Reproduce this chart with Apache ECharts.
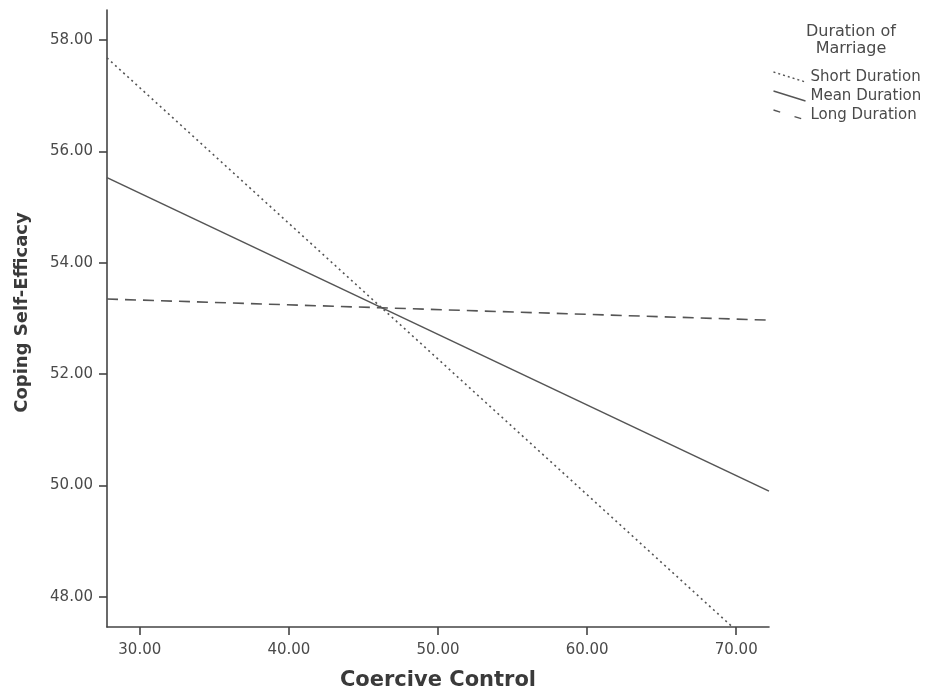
<!DOCTYPE html>
<html><head><meta charset="utf-8">
<script src="https://cdn.jsdelivr.net/npm/echarts@6/dist/echarts.min.js"></script>
<style>html,body{margin:0;padding:0;background:#fff}#c{width:928px;height:696px}</style>
</head><body><div id="c"></div>
<script>
const xTicks = [30, 40, 50, 60, 70];
const yTicks = [48, 50, 52, 54, 56, 58];
const seriesNames = ['Short Duration', 'Mean Duration', 'Long Duration'];
const shortDuration = [[27.8, 57.68], [69.75, 47.46]];
const meanDuration = [[27.8, 55.53], [72.2, 49.90]];
const longDuration = [[27.8, 53.35], [72.2, 52.97]];
const lineTypes = [[2, 3.5], 'solid', [11, 7]];
const legendTypes = [[2, 3], 'solid', [7, 15]];
const lineData = [shortDuration, meanDuration, longDuration];

const chart = echarts.init(document.getElementById('c'));
const font = 'DejaVu Sans, Verdana, sans-serif';
chart.setOption({
  animation: false,
  backgroundColor: '#fff',
  grid: { left: 107, top: 10, right: 159, bottom: 67 },
  xAxis: {
    type: 'value', min: 27.8, max: 72.2,
    name: 'Coercive Control', nameLocation: 'middle', nameGap: 43,
    nameTextStyle: { fontFamily: font, fontWeight: 'bold', fontSize: 21, color: '#3a3a3a' },
    axisLine: { show: true, onZero: false, lineStyle: { color: '#444', width: 1.6 } },
    axisTick: { show: true, length: 8, customValues: xTicks, lineStyle: { color: '#444', width: 1.6 } },
    axisLabel: { customValues: xTicks, formatter: v => v.toFixed(2), margin: 16, fontFamily: font, fontSize: 15, color: '#4a4a4a' },
    splitLine: { show: false }
  },
  yAxis: {
    type: 'value', min: 47.46, max: 58.54,
    name: 'Coping Self-Efficacy', nameLocation: 'middle', nameGap: 76, nameRotate: 90,
    nameTextStyle: { fontFamily: font, fontWeight: 'bold', fontSize: 18, color: '#3a3a3a', padding: [0, 0, 0, 12] },
    axisLine: { show: true, onZero: false, lineStyle: { color: '#444', width: 1.6 } },
    axisTick: { show: true, length: 8, customValues: yTicks, lineStyle: { color: '#444', width: 1.6 } },
    axisLabel: { customValues: yTicks, formatter: v => v.toFixed(2), margin: 14, fontFamily: font, fontSize: 15, color: '#4a4a4a' },
    splitLine: { show: false }
  },
  legend: {
    orient: 'vertical', left: 771, top: 69, padding: 0, itemGap: 3, itemWidth: 32, itemHeight: 10,
    textStyle: { fontFamily: font, fontSize: 15, color: '#4a4a4a', lineHeight: 16 },
    data: seriesNames.map((n, i) => ({
      name: n,
      icon: 'path://M0,0 L32,10',
      itemStyle: { color: 'none', borderColor: '#555', borderWidth: 1.4, borderType: legendTypes[i] }
    }))
  },
  graphic: [{
    type: 'text', x: 851, y: 23,
    style: { text: 'Duration of\nMarriage', align: 'center', fontFamily: font, fontSize: 16, fill: '#4a4a4a', lineHeight: 17 }
  }],
  series: seriesNames.map((n, i) => ({
    name: n, type: 'line', data: lineData[i], showSymbol: false, symbol: 'none',
    lineStyle: { color: '#555', width: 1.6, type: lineTypes[i] },
    itemStyle: { color: '#555' }
  }))
});
</script></body></html>
